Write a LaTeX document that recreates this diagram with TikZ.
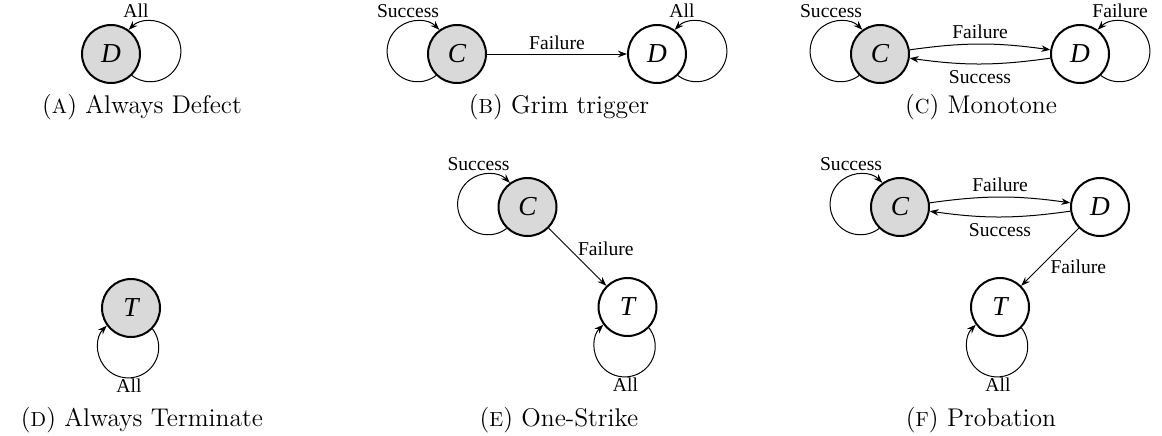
\documentclass[tikz,border=0pt]{standalone}
\usepackage{fontspec}
\setmainfont{Latin Modern Roman}
\newfontfamily\timesfont{Liberation Serif}
\usetikzlibrary{arrows.meta}

\definecolor{initfill}{gray}{0.85}

% fonts for edge labels, state names and sub-captions
\newcommand\edgefont{\timesfont\fontsize{9.8}{11}\selectfont}
\newcommand\statefont{\timesfont\itshape\fontsize{13.7}{16}\selectfont}
\newcommand\captfont{\fontsize{12.8}{15}\selectfont}
% sub-figure letter in small capitals
\newcommand\subletter[1]{({\fontsize{10.2}{12}\selectfont #1})}

% self loop: #1 node, #2 direction of loop centre, #3 start angle, #4 end angle
\newcommand\selfloop[4]{%
  \draw[link] ([shift={(#2:19.75pt)}]#1.center) ++(#3:15.25pt)
    arc[start angle=#3, end angle=#4, radius=15.25pt];}

\tikzset{
  plainstate/.style={circle, draw, line width=1pt, minimum size=29pt,
    inner sep=0pt, fill=white, font=\statefont},
  initstate/.style={plainstate, fill=initfill},
  link/.style={line width=0.5pt, -{Stealth[length=4.5pt,width=3.3pt]}},
  lbl/.style={font=\edgefont, inner sep=0pt},
  captn/.style={font=\captfont, inner sep=0pt, anchor=base},
}

\begin{document}
\begin{tikzpicture}[x=0.5pt, y=0.5pt]
\useasboundingbox (0,0) rectangle (1162,-435);

% (a) Always Defect
\node[initstate] (aD) at (111,-54) {D};
\selfloop{aD}{4}{-127.3}{135.3}
\node[lbl, anchor=base west] at ([shift={(12,37)}]aD.center) {All};
\node[captn] at (142,-113) {\subletter{A}~Always Defect};

% (b) Grim trigger
\node[initstate] (bC) at (457,-54) {C};
\node[plainstate] (bD) at (657,-54) {D};
\selfloop{bC}{176}{307.3}{44.7}
\selfloop{bD}{4}{-127.3}{135.3}
\node[lbl, anchor=base east] at ([shift={(-17.5,37)}]bC.center) {Success};
\node[lbl, anchor=base west] at ([shift={(12,37)}]bD.center) {All};
\draw[link] (bC) -- node[lbl, anchor=base, yshift=2.5pt] {Failure} (bD);
\node[captn] at (559,-113) {\subletter{B}~Grim trigger};

% (c) Monotone
\node[initstate] (cC) at (880,-54) {C};
\node[plainstate] (cD) at (1080,-54) {D};
\selfloop{cC}{176}{307.3}{44.7}
\selfloop{cD}{4}{-127.3}{135.3}
\node[lbl, anchor=base east] at ([shift={(-17.5,37)}]cC.center) {Success};
\node[lbl, anchor=base west] at ([shift={(12,37)}]cD.center) {Failure};
\draw[link] (cC) to[bend left=8] node[lbl, anchor=base, yshift=3pt] {Failure} (cD);
\draw[link] (cD) to[bend left=8] node[lbl, anchor=base, yshift=-10pt] {Success} (cC);
\node[captn] at (981,-113) {\subletter{C}~Monotone};

% (d) Always Terminate
\node[initstate] (dT) at (131,-308) {T};
\selfloop{dT}{-94}{37.3}{-225.3}
\node[lbl, anchor=base] at ([shift={(-2,-84)}]dT.center) {All};
\node[captn] at (142,-426) {\subletter{D}~Always Terminate};

% (e) One-Strike
\node[initstate] (eC) at (527.5,-207) {C};
\node[plainstate] (eT) at (627.5,-307) {T};
\selfloop{eC}{176}{307.3}{44.7}
\selfloop{eT}{-94}{37.3}{-225.3}
\node[lbl, anchor=base east] at ([shift={(-17.5,37)}]eC.center) {Success};
\node[lbl, anchor=base] at ([shift={(-2,-84)}]eT.center) {All};
\draw[link] (eC) -- node[lbl, anchor=base west, yshift=1pt] {Failure} (eT);
\node[captn] at (559,-426) {\subletter{E}~One-Strike};

% (f) Probation
\node[initstate] (fC) at (900,-207) {C};
\node[plainstate] (fD) at (1100,-207) {D};
\node[plainstate] (fT) at (1000,-307) {T};
\selfloop{fC}{176}{307.3}{44.7}
\selfloop{fT}{-94}{37.3}{-225.3}
\node[lbl, anchor=base east] at ([shift={(-17.5,37)}]fC.center) {Success};
\node[lbl, anchor=base] at ([shift={(-2,-84)}]fT.center) {All};
\draw[link] (fC) to[bend left=8] node[lbl, anchor=base, yshift=3pt] {Failure} (fD);
\draw[link] (fD) to[bend left=8] node[lbl, anchor=base, yshift=-10pt] {Success} (fC);
\draw[link] (fD) -- node[lbl, anchor=base west, yshift=-8pt] {Failure} (fT);
\node[captn] at (981,-426) {\subletter{F}~Probation};
\end{tikzpicture}
\end{document}
